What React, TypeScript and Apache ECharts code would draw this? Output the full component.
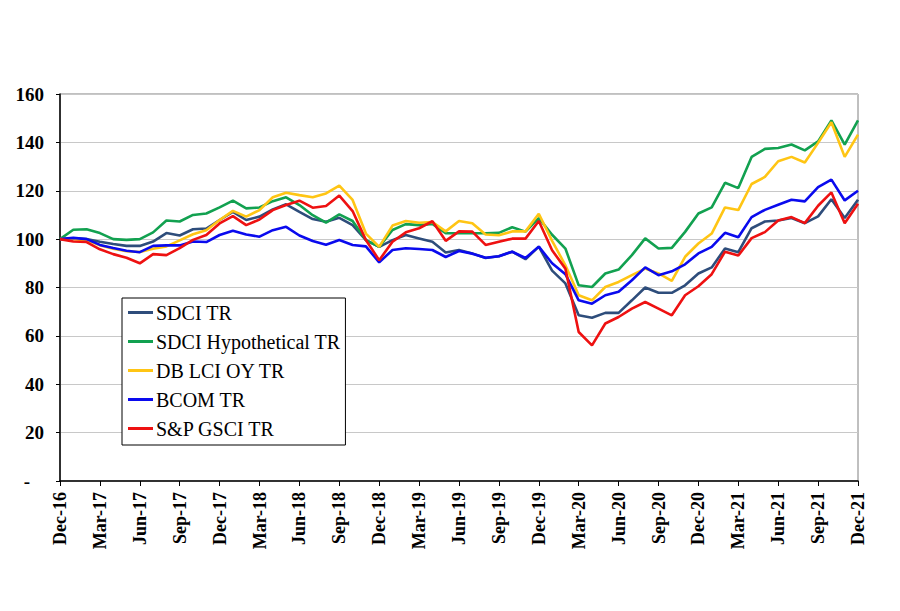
import React, { useEffect, useRef } from "react";
import * as echarts from "echarts";

const months = ["Jan", "Feb", "Mar", "Apr", "May", "Jun", "Jul", "Aug", "Sep", "Oct", "Nov", "Dec"];
const categories: string[] = ["Dec-16"];
for (let y = 17; y <= 21; y++) for (const m of months) categories.push(`${m}-${y}`);

const yTicks = [0, 20, 40, 60, 80, 100, 120, 140, 160];

const sdciTR = [
  100, 100.3, 100, 98.9, 98, 97.2, 97.2, 99, 102.5, 101.5, 104.1, 104.4, 107.9,
  111.3, 107.9, 109.3, 112.3, 114.4, 111.3, 108.3, 107.2, 108.8, 105.8, 99.6, 96.8,
  99.6, 101.7, 100.3, 98.9, 94.5, 95.5, 94.1, 92.2, 92.9, 94.8, 91.7, 96.9,
  87, 81.7, 68.5, 67.5, 69.5, 69.5, 74.7, 80, 77.8, 77.8, 80.9, 85.8,
  88.3, 96.1, 94.6, 104.5, 107.3, 107.7, 108.7, 106.6, 109.4, 116.5, 108.7, 116.3,
];
const sdciHypTR = [
  100, 103.9, 104.1, 102.5, 100, 99.7, 100, 102.8, 107.7, 107.3, 110, 110.6, 113.1,
  115.9, 112.7, 113.1, 115.7, 117.3, 114.1, 109.9, 106.8, 110.2, 107.5, 99.6, 96.8,
  103.8, 106.2, 105.8, 106.3, 102.5, 102.4, 102.4, 102.4, 102.6, 104.9, 103.1, 108.7,
  101.8, 96.1, 80.9, 80.2, 85.8, 87.4, 93.4, 100.3, 96.1, 96.4, 103, 110.6,
  113.1, 123.3, 121.1, 134, 137.3, 137.7, 139.1, 136.7, 140.4, 149.1, 139.1, 149.1,
];
const dbLciOyTR = [
  100, 100, 99.6, 97.5, 96, 95, 94.7, 96, 97, 99.5, 102, 103.7, 107.9,
  111.7, 109.3, 112, 117.3, 119.2, 118.2, 117.3, 118.9, 122.1, 116.2, 102.3, 96.8,
  105.6, 107.5, 106.8, 107.1, 103.2, 107.5, 106.6, 101.9, 101.6, 103.2, 103.2, 110.5,
  99.3, 89.2, 76.8, 74.7, 80.2, 82.3, 85.1, 87.8, 85.8, 82.7, 92.7, 98.2,
  102.3, 113.1, 112, 122.8, 125.7, 132.2, 134, 131.7, 139.8, 148.3, 134, 143.2,
];
const bcomTR = [
  100, 100.5, 100, 97.6, 96.3, 95.2, 94.6, 97.2, 97.4, 97.4, 99, 98.8, 101.7,
  103.5, 101.9, 101, 103.7, 105.1, 101.5, 99.2, 97.7, 99.6, 97.6, 97, 90.4,
  95.5, 96.2, 95.9, 95.5, 92.6, 95.1, 94, 92.3, 92.9, 94.8, 92.2, 96.9,
  90, 85.5, 74.7, 73.3, 76.8, 78.2, 83, 88.3, 85.1, 86.7, 89.6, 94.1,
  96.8, 102.6, 100.8, 109.1, 112.1, 114.2, 116.3, 115.6, 121.5, 124.6, 116, 120,
];
const gsciTR = [
  100, 99, 98.8, 95.8, 93.8, 92.3, 90, 93.8, 93.4, 96.3, 99.7, 101.7, 106.5,
  109.5, 105.8, 108.1, 112, 114.1, 115.9, 113, 113.7, 118, 111.6, 99.6, 91.3,
  98.9, 102.8, 104.5, 107.4, 99.3, 103.2, 103.1, 97.6, 98.9, 100.2, 100.2, 107.5,
  95.4, 87.8, 61.6, 56.1, 65.1, 67.8, 71.3, 74, 71.3, 68.5, 76.8, 80.5,
  85.5, 94.8, 93.2, 100.4, 102.9, 107.7, 109.1, 106.6, 113.8, 119.3, 106.6, 114.6,
];

const seriesNames = ["SDCI TR", "SDCI Hypothetical TR", "DB LCI OY TR", "BCOM TR", "S&P GSCI TR"];
const seriesData = [sdciTR, sdciHypTR, dbLciOyTR, bcomTR, gsciTR];
const seriesColors = ["#2E4D7B", "#12A150", "#FFC514", "#0A0AEE", "#EE1111"];

const FONT = "'Times New Roman', 'Liberation Serif', serif";

export default function App() {
  const ref = useRef<HTMLDivElement>(null);
  useEffect(() => {
    if (!ref.current) return;
    const chart = echarts.init(ref.current, undefined, { renderer: "svg" });
    chart.setOption({
      animation: false,
      backgroundColor: "#fff",
      grid: {
        left: 60,
        right: 42,
        top: 94,
        bottom: 130,
        show: true,
        borderColor: "#808080",
        borderWidth: 1,
        backgroundColor: "#fff",
      },
      legend: {
        orient: "vertical",
        left: 122,
        top: 298,
        backgroundColor: "#fff",
        borderColor: "#000",
        borderWidth: 1,
        padding: [0, 5, 2, 6],
        itemGap: 0,
        itemWidth: 25,
        itemHeight: 3,
        icon: "rect",
        data: seriesNames,
        textStyle: {
          fontFamily: FONT,
          fontSize: 20,
          color: "#000",
          lineHeight: 29,
          padding: [0, 0, 0, -2],
        },
      },
      xAxis: {
        type: "category",
        data: categories,
        boundaryGap: false,
        axisLine: { lineStyle: { color: "#000", width: 1.5 } },
        axisTick: { interval: 2, length: 5, lineStyle: { color: "#000" } },
        axisLabel: {
          interval: 2,
          rotate: 90,
          margin: 11,
          fontFamily: FONT,
          fontWeight: "bold",
          fontSize: 18,
          color: "#000",
        },
        splitLine: { show: false },
      },
      yAxis: {
        type: "value",
        min: yTicks[0],
        max: yTicks[yTicks.length - 1],
        interval: 20,
        axisLine: { show: true, lineStyle: { color: "#000", width: 1.5 } },
        axisTick: { show: true, length: 4, lineStyle: { color: "#000" } },
        axisLabel: {
          margin: 16,
          fontFamily: FONT,
          fontWeight: "bold",
          fontSize: 19,
          color: "#000",
          formatter: (v: number) => (v === 0 ? "{d|-}" : String(v)),
          rich: {
            d: { fontFamily: FONT, fontWeight: "bold", fontSize: 19, color: "#000", padding: [0, 14, 0, 0] },
          },
        },
        splitLine: { show: true, lineStyle: { color: "#C8C8C8", width: 1 } },
      },
      series: seriesNames.map((name, i) => ({
        name,
        type: "line",
        data: seriesData[i],
        symbol: "none",
        showSymbol: false,
        lineStyle: { color: seriesColors[i], width: 2.6 },
        itemStyle: { color: seriesColors[i] },
      })),
    });
    return () => chart.dispose();
  }, []);
  return (
    <div
      ref={ref}
      style={{ position: "fixed", left: 0, top: 0, width: 900, height: 611, background: "#fff" }}
    />
  );
}
